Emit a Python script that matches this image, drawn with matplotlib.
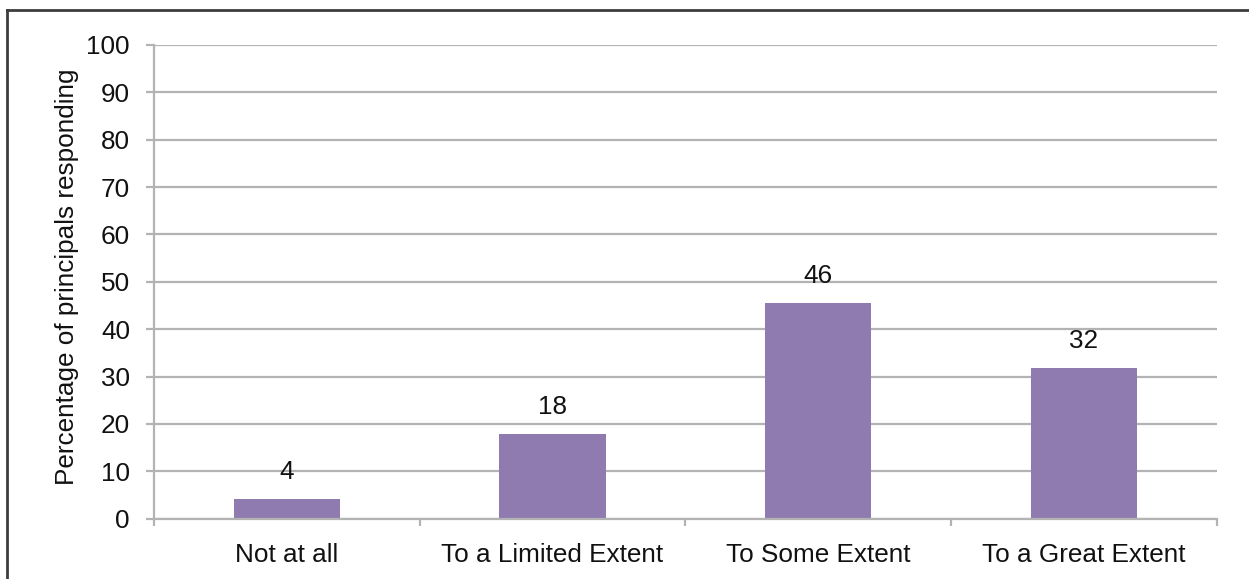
import matplotlib
matplotlib.use("Agg")
import matplotlib.pyplot as plt
from matplotlib.lines import Line2D

categories = ["Not at all", "To a Limited Extent", "To Some Extent", "To a Great Extent"]
values = [4.2, 17.9, 45.5, 31.8]
labels = ["4", "18", "46", "32"]
yticks = [0, 10, 20, 30, 40, 50, 60, 70, 80, 90, 100]
ylabel = "Percentage of principals responding"

plt.rcParams["font.family"] = ["Liberation Sans", "DejaVu Sans"]

W, H = 1249, 579
fig = plt.figure(figsize=(W / 100, H / 100), dpi=100)
ax = fig.add_axes([154 / W, 1 - 518.7 / H, (1216.7 - 154) / W, (518.7 - 45) / H])

grid_c = "#b3b3b3"
bar_c = "#8f7bb0"
text_c = "#111111"

x = list(range(len(categories)))
bars = ax.bar(x, values, width=0.4, color=bar_c, zorder=3)
for xi, v, lab in zip(x, values, labels):
    ax.annotate(lab, (xi, v), xytext=(0, 14.4), textcoords="offset points",
                ha="center", va="baseline", fontsize=18.8, color=text_c)

ax.set_xlim(-0.5, len(categories) - 0.5)
ax.set_ylim(0, 100)
ax.set_yticks(yticks)
ax.set_yticklabels([str(t) for t in yticks])
ax.yaxis.grid(True, color=grid_c, linewidth=1.6, zorder=0)
ax.set_axisbelow(True)

ax.set_xticks(x)
ax.set_xticklabels(categories)
ax.set_xticks([i - 0.5 for i in range(len(categories) + 1)], minor=True)
ax.tick_params(axis="x", which="major", length=0, pad=17.5, labelsize=18.8, labelcolor=text_c)
ax.tick_params(axis="x", which="minor", length=5.2, width=1.6, color=grid_c, direction="out")
ax.tick_params(axis="y", which="major", length=5.8, width=1.6, color=grid_c, pad=11.5,
               labelsize=18.8, labelcolor=text_c)

for s in ["top", "right"]:
    ax.spines[s].set_visible(False)
for s in ["left", "bottom"]:
    ax.spines[s].set_color(grid_c)
    ax.spines[s].set_linewidth(1.6)
    ax.spines[s].set_zorder(4)

ax.set_ylabel(ylabel, fontsize=18.8, color=text_c)
ax.yaxis.set_label_coords((79 - 154) / (1216.7 - 154), 0.51)

# figure border (top and left edges visible)
border_c = "#3d3d3d"
fig.add_artist(Line2D([7 / W, 1.0], [1 - 10 / H, 1 - 10 / H], transform=fig.transFigure,
                      color=border_c, linewidth=2.0))
fig.add_artist(Line2D([7 / W, 7 / W], [0.0, 1 - 10 / H], transform=fig.transFigure,
                      color=border_c, linewidth=2.0))

fig.savefig("out.png", dpi=100)
